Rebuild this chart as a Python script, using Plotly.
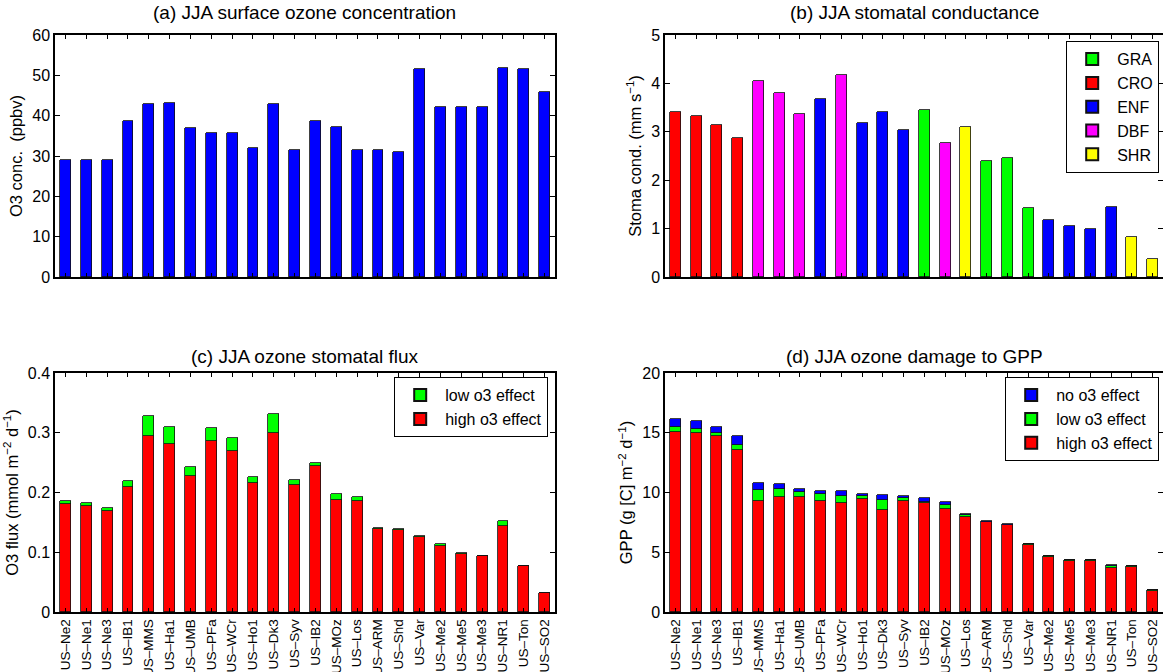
import plotly.graph_objects as go

sites = ["US–Ne2", "US–Ne1", "US–Ne3", "US–IB1", "US–MMS", "US–Ha1", "US–UMB", "US–PFa",
         "US–WCr", "US–Ho1", "US–Dk3", "US–Syv", "US–IB2", "US–MOz", "US–Los", "US–ARM",
         "US–Shd", "US–Var", "US–Me2", "US–Me5", "US–Me3", "US–NR1", "US–Ton", "US–SO2"]

# (a) JJA surface ozone concentration (ppbv)
o3_conc = [29.1, 29.1, 29.1, 38.7, 42.8, 43.2, 36.9, 35.8, 35.8, 31.9, 43.0, 31.5,
           38.7, 37.3, 31.5, 31.6, 31.1, 51.5, 42.2, 42.2, 42.2, 51.9, 51.5, 45.8]

# (b) JJA stomatal conductance (mm s-1) and plant functional type
stoma_cond = [3.40, 3.32, 3.15, 2.88, 4.05, 3.81, 3.37, 3.68, 4.17, 3.19, 3.40, 3.03,
              3.45, 2.77, 3.09, 2.40, 2.46, 1.43, 1.17, 1.06, 1.00, 1.45, 0.83, 0.37]
pft = ["CRO", "CRO", "CRO", "CRO", "DBF", "DBF", "DBF", "ENF", "DBF", "ENF", "ENF", "ENF",
       "GRA", "DBF", "SHR", "GRA", "GRA", "GRA", "ENF", "ENF", "ENF", "ENF", "SHR", "SHR"]
pft_order = ["GRA", "CRO", "ENF", "DBF", "SHR"]
pft_colors = {"GRA": "#00FF00", "CRO": "#FF0000", "ENF": "#0000FF", "DBF": "#FF00FF", "SHR": "#FFFF00"}

# (c) JJA ozone stomatal flux (mmol m-2 d-1), stacked segments
flux_high = [0.180, 0.177, 0.1695, 0.2096, 0.294, 0.282, 0.228, 0.2867, 0.269, 0.216, 0.2988, 0.212,
             0.244, 0.187, 0.1865, 0.139, 0.138, 0.126, 0.1106, 0.0968, 0.093, 0.1436, 0.077, 0.0319]
flux_low = [0.0065, 0.006, 0.0045, 0.010, 0.0345, 0.028, 0.014, 0.0213, 0.0215, 0.0107, 0.032, 0.009,
            0.005, 0.011, 0.0055, 0.001, 0.001, 0.001, 0.0034, 0.0022, 0.001, 0.0088, 0.0006, 0.0003]

# (d) JJA ozone damage to GPP (g C m-2 d-1), stacked segments
gpp_high = [15.08, 14.97, 14.72, 13.53, 9.33, 9.63, 9.63, 9.33, 9.16, 9.44, 8.56, 9.33,
            9.11, 8.64, 7.95, 7.51, 7.24, 5.61, 4.57, 4.29, 4.29, 3.71, 3.80, 1.79]
gpp_low = [0.41, 0.38, 0.27, 0.45, 0.88, 0.66, 0.38, 0.52, 0.58, 0.24, 0.79, 0.22,
           0.13, 0.33, 0.14, 0.06, 0.08, 0.06, 0.08, 0.08, 0.08, 0.14, 0.03, 0.01]
gpp_no = [0.63, 0.61, 0.47, 0.74, 0.57, 0.44, 0.25, 0.30, 0.36, 0.22, 0.44, 0.19,
          0.31, 0.27, 0.14, 0.05, 0.05, 0.02, 0.03, 0.02, 0.02, 0.11, 0.02, 0.02]

FONT = "Arial, Liberation Sans, Helvetica, sans-serif"
BW = 0.52
edge = dict(color="#111111", width=0.8)

fig = go.Figure()

# (a)
fig.add_trace(go.Bar(x=sites, y=o3_conc, width=BW, marker=dict(color="#0000FF", line=edge),
                     showlegend=False, xaxis="x", yaxis="y"))
# (b)
for k in pft_order:
    xs = [s for s, p in zip(sites, pft) if p == k]
    ys = [v for v, p in zip(stoma_cond, pft) if p == k]
    fig.add_trace(go.Bar(x=xs, y=ys, width=BW, name=k, marker=dict(color=pft_colors[k], line=edge),
                         xaxis="x2", yaxis="y2", legend="legend"))
# (c)
fig.add_trace(go.Bar(x=sites, y=flux_high, width=BW, name="high o3 effect",
                     marker=dict(color="#FF0000", line=edge), xaxis="x3", yaxis="y3", legend="legend2"))
fig.add_trace(go.Bar(x=sites, y=flux_low, width=BW, name="low o3 effect",
                     marker=dict(color="#00FF00", line=edge), xaxis="x3", yaxis="y3", legend="legend2"))
# (d)
fig.add_trace(go.Bar(x=sites, y=gpp_high, width=BW, name="high o3 effect",
                     marker=dict(color="#FF0000", line=edge), xaxis="x4", yaxis="y4", legend="legend3"))
fig.add_trace(go.Bar(x=sites, y=gpp_low, width=BW, name="low o3 effect",
                     marker=dict(color="#00FF00", line=edge), xaxis="x4", yaxis="y4", legend="legend3"))
fig.add_trace(go.Bar(x=sites, y=gpp_no, width=BW, name="no o3 effect",
                     marker=dict(color="#0000FF", line=edge), xaxis="x4", yaxis="y4", legend="legend3"))

W, H = 1163, 672
xl = [55 / W, 555 / W]
xr = [665 / W, 1.0]
yt = [1 - 277 / H, 1 - 35 / H]
yb = [1 - 612 / H, 1 - 373 / H]

def xax(dom, anchor, labels):
    return dict(domain=dom, anchor=anchor, type="category", categoryorder="array", categoryarray=sites,
                range=[-0.5, 23.5], tickmode="array", tickvals=sites, ticktext=sites,
                showticklabels=labels, tickangle=-90, ticks="inside", ticklen=4, tickcolor="black",
                showline=True, linecolor="black", linewidth=1.5, mirror="ticks", showgrid=False,
                tickfont=dict(family=FONT, size=13.5, color="black"), automargin=False)

def yax(dom, anchor, rng, dtick, title):
    return dict(domain=dom, anchor=anchor, range=rng, dtick=dtick, tick0=0, ticks="inside", ticklen=5,
                tickcolor="black", showline=True, linecolor="black", linewidth=1.5, mirror="ticks",
                showgrid=False, zeroline=False, tickfont=dict(family=FONT, size=16, color="black"),
                title=dict(text=title, font=dict(family=FONT, size=16.5, color="black"), standoff=5),
                automargin=False)

legend_common = dict(bgcolor="white", bordercolor="black", borderwidth=1.2,
                     font=dict(family=FONT, size=16, color="black"), xanchor="right", yanchor="top",
                     traceorder="normal", itemsizing="constant", tracegroupgap=0, itemwidth=40)

fig.update_layout(
    width=W, height=H, margin=dict(l=0, r=0, t=0, b=0),
    paper_bgcolor="white", plot_bgcolor="white", barmode="stack", bargap=0,
    font=dict(family=FONT, color="black"),
    xaxis=xax(xl, "y", False), yaxis=yax(yt, "x", [0, 60], 10, "O3 conc.  (ppbv)"),
    xaxis2=xax(xr, "y2", False), yaxis2=yax(yt, "x2", [0, 5], 1, "Stoma cond. (mm s<sup>−1</sup>)"),
    xaxis3=xax(xl, "y3", True), yaxis3=yax(yb, "x3", [0, 0.4], 0.1, "O3 flux (mmol m<sup>−2</sup> d<sup>−1</sup>)"),
    xaxis4=xax(xr, "y4", True), yaxis4=yax(yb, "x4", [0, 20], 5, "GPP (g [C] m<sup>−2</sup> d<sup>−1</sup>)"),
    legend=dict(legend_common, x=1159 / W, y=1 - 41 / H),
    legend2=dict(legend_common, x=548 / W, y=1 - 377 / H, traceorder="reversed"),
    legend3=dict(legend_common, x=1159 / W, y=1 - 377 / H, traceorder="reversed"),
)

titles = [("(a) JJA surface ozone concentration", xl, 12),
          ("(b) JJA stomatal conductance", xr, 12),
          ("(c) JJA ozone stomatal flux", xl, 356),
          ("(d) JJA ozone damage to GPP", xr, 356)]
for text, dom, ypx in titles:
    fig.add_annotation(text=text, x=(dom[0] + dom[1]) / 2, y=1 - ypx / H, xref="paper", yref="paper",
                       xanchor="center", yanchor="middle", showarrow=False,
                       font=dict(family=FONT, size=19, color="black"))

fig.write_html("out.html")
